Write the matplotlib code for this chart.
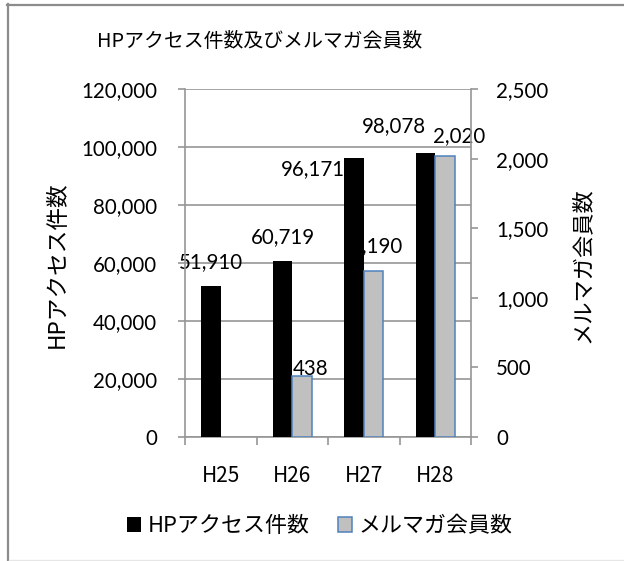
import numpy as np
import matplotlib
matplotlib.use("Agg")
import matplotlib.pyplot as plt
from matplotlib.lines import Line2D
from matplotlib.patches import Patch

plt.rcParams['font.family'] = ['Lato', 'Noto Sans CJK JP', 'DejaVu Sans']

categories = ["H25", "H26", "H27", "H28"]
hp_access = [51910, 60719, 96171, 98078]
mail_members = [None, 438, 1190, 2020]
hp_label_offsets = [(0, 24.5), (0, 24), (-41, -11), (-32, 26.6)]   # px
mail_label_offsets = [None, (9, 7), (3, 25), (14, 20)]             # px

title = "HPアクセス件数及びメルマガ会員数"
left_label = "HPアクセス件数"
right_label = "メルマガ会員数"

W, H = 624, 561
fig = plt.figure(figsize=(W / 100, H / 100), dpi=100)
fig.patch.set_facecolor("white")

L, R, T, B = 185, 471, 89, 437
ax = fig.add_axes([L / W, 1 - B / H, (R - L) / W, (B - T) / H])
ax2 = ax.twinx()

grid_c = "#969696"
x = np.arange(len(categories))
w = 0.27

# ordering: primary axis (black bars + labels) drawn below secondary (gray bars)
ax.set_zorder(1)
ax2.set_zorder(2)
ax2.patch.set_visible(False)
ax.patch.set_facecolor("white")

ax.bar(x - w / 2, hp_access, w, color="black", zorder=3)
mx = [xi + w / 2 for xi, v in zip(x, mail_members) if v is not None]
mv = [v for v in mail_members if v is not None]
ax2.bar(mx, mv, w, color="#C0C0C0", edgecolor="#4F81BD", linewidth=1.1, zorder=3)

ax.set_xlim(-0.5, len(categories) - 0.5)
ax.set_ylim(0, 120000)
ax2.set_ylim(0, 2500)
ax.set_yticks(np.arange(0, 120001, 20000))
ax2.set_yticks(np.arange(0, 2501, 500))
ax.yaxis.set_major_formatter(matplotlib.ticker.FuncFormatter(lambda v, p: f"{int(v):,}"))
ax2.yaxis.set_major_formatter(matplotlib.ticker.FuncFormatter(lambda v, p: f"{int(v):,}"))

ax.grid(axis="y", color=grid_c, linewidth=1.2, zorder=0)
ax.set_axisbelow(True)

for s in ["top", "right"]:
    ax.spines[s].set_visible(False)
for s in ["left", "bottom"]:
    ax.spines[s].set_color(grid_c)
    ax.spines[s].set_linewidth(1.2)
for s in ["top", "left", "bottom"]:
    ax2.spines[s].set_visible(False)
ax2.spines["right"].set_color(grid_c)
ax2.spines["right"].set_linewidth(1.2)

lbl_fs = 14.8
ax.tick_params(axis="y", direction="out", length=5, width=1.2, color=grid_c,
               labelsize=lbl_fs, pad=15)
ax2.tick_params(axis="y", direction="out", length=5, width=1.2, color=grid_c,
                labelsize=lbl_fs, pad=13)

# category boundary ticks + category labels
ax.set_xticks(np.arange(-0.5, len(categories), 1.0))
ax.set_xticklabels([])
ax.tick_params(axis="x", which="major", direction="out", length=6, width=1.2, color=grid_c)
ax.set_xticks(x, minor=True)
ax.set_xticklabels(categories, minor=True, fontsize=15, family="Noto Sans CJK JP")
ax.tick_params(axis="x", which="minor", length=0, pad=20)

# data labels
for xi, v, off in zip(x, hp_access, hp_label_offsets):
    ax.annotate(f"{v:,}", xy=(xi - w / 2, v), xytext=(off[0] * 0.72, off[1] * 0.72),
                textcoords="offset points", ha="center", va="center",
                fontsize=lbl_fs, zorder=2, annotation_clip=False)
for xi, v, off in zip(x, mail_members, mail_label_offsets):
    if v is None:
        continue
    ax.annotate(f"{v:,}", xy=(xi + w / 2, v), xycoords=ax2.transData,
                xytext=(off[0] * 0.72, off[1] * 0.72),
                textcoords="offset points", ha="center", va="center",
                fontsize=lbl_fs, zorder=2, annotation_clip=False)

# titles / axis labels
fig.text(260 / W, 1 - 41 / H, title, ha="center", va="center", fontsize=14.3,
         family=["Noto Sans CJK JP"])
fig.text(57 / W, 1 - 265 / H, left_label, ha="center", va="center", rotation=90,
         fontsize=16.3, family=["Noto Sans CJK JP"])
fig.text(582 / W, 1 - 265 / H, right_label, ha="center", va="center", rotation=90,
         fontsize=16, family=["Noto Sans CJK JP"])

# legend
handles = [Patch(facecolor="black", edgecolor="black", linewidth=0),
           Patch(facecolor="#C0C0C0", edgecolor="#4F81BD", linewidth=1.1)]
leg = fig.legend(handles, [left_label, right_label], ncol=2, loc="center",
                 bbox_to_anchor=(320 / W, 1 - 526 / H), frameon=False,
                 prop={"family": "Noto Sans CJK JP", "size": 15.8},
                 handlelength=0.64, handleheight=0.64, handletextpad=0.3,
                 columnspacing=1.3, borderpad=0)

# chart frame (left/top visible)
fig.add_artist(Line2D([8 / W, 8 / W], [0, 1 - 4 / H], transform=fig.transFigure,
                      color="#8c8c8c", linewidth=1.6))
fig.add_artist(Line2D([7 / W, 1], [1 - 4.5 / H, 1 - 4.5 / H], transform=fig.transFigure,
                      color="#8c8c8c", linewidth=1.6))
fig.add_artist(Line2D([9 / W, 1], [1 - 560 / H, 1 - 560 / H], transform=fig.transFigure,
                      color="#e6e6e6", linewidth=1))

fig.savefig("out.png", dpi=100)
